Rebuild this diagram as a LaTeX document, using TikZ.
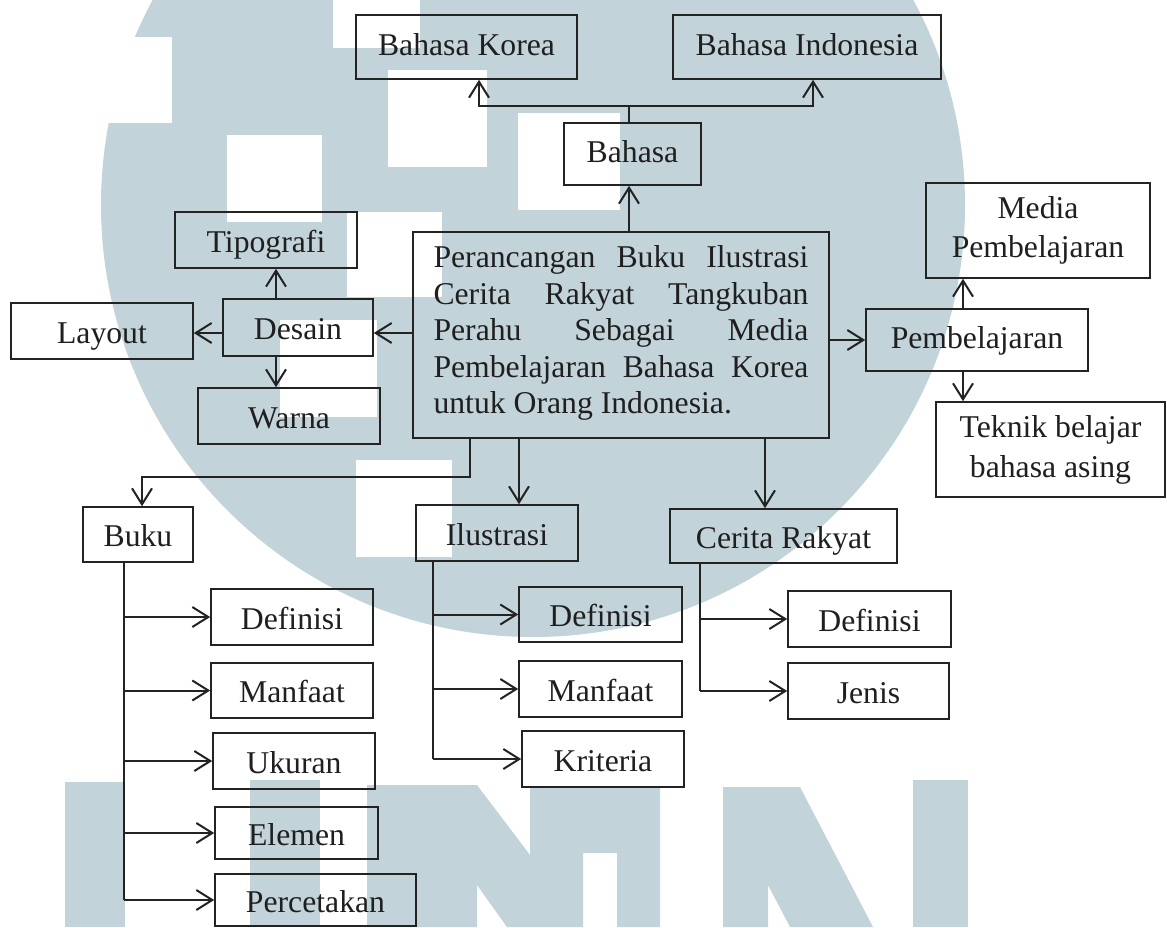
\documentclass[tikz,border=0pt]{standalone}
\usepackage{fontspec}
\setmainfont{Liberation Serif}
\usetikzlibrary{arrows.meta}
\definecolor{wm}{RGB}{195,211,218}
\definecolor{lnc}{RGB}{35,35,35}
\newcommand\fsz{\fontsize{31.7}{36.5}\selectfont}
\begin{document}
\begin{tikzpicture}[x=1pt,y=-1pt,
  box/.style={draw=lnc, line width=1.6pt, inner sep=0pt, font=\fsz, align=center, text=black!88},
  sbox/.style={box, execute at begin node={\rule[-7pt]{0pt}{38pt}}},
  tbox/.style={box, execute at begin node={\rule[-10.5pt]{0pt}{38pt}}},
  conn/.style={draw=lnc, line width=2pt},
  arr/.style={conn, -{Straight Barb[length=16pt,width=20pt,line width=2pt]}}]
\useasboundingbox (0,0) rectangle (1167,927);
\fill[white] (0,0) rectangle (1167,927);
% watermark
\begin{scope}
\clip (0,0) rectangle (1167,927);
\fill[wm] (533,205) circle (432);
\fill[white] (100,37) rectangle (172,123);
\fill[white] (333,0) rectangle (420,48);
\fill[white] (388,70) rectangle (487,167);
\fill[white] (518,113) rectangle (620,210);
\fill[white] (227,135) rectangle (322,222);
\fill[white] (347,212) rectangle (442,297);
\fill[white] (280,320) rectangle (377,417);
\fill[white] (356,460) rectangle (452,557);
\fill[wm] (65,782) rectangle (125,927);
\fill[wm] (250,780) rectangle (320,927);
\fill[wm] (367,927) -- (367,785) -- (477,785) -- (530,855) -- (530,787) -- (660,787) -- (660,927) -- (617,927) -- (617,853) -- (583,853) -- (583,927) -- (507,927) -- (477,885) -- (477,927) -- cycle;
\fill[wm] (723,927) -- (723,787) -- (800,787) -- (873,927) -- (790,927) -- (768,885) -- (768,927) -- cycle;
\fill[wm] (913,780) rectangle (968,927);
\end{scope}
% nodes
\node[tbox, minimum width=221pt, minimum height=64pt] (korea) at (466.5,47) {Bahasa Korea};
\node[tbox, minimum width=268pt, minimum height=64pt] (indo) at (807,47) {Bahasa Indonesia};
\node[tbox, minimum width=137pt, minimum height=62pt] (bahasa) at (632.5,154) {Bahasa};
\node[box, execute at begin node=\strut, minimum width=416pt, minimum height=206pt, align=left] (main) at (621,335)
  {\makebox[375pt][s]{Perancangan Buku Ilustrasi}\\
   \makebox[375pt][s]{Cerita Rakyat Tangkuban}\\
   \makebox[375pt][s]{Perahu Sebagai Media}\\
   \makebox[375pt][s]{Pembelajaran Bahasa Korea}\\
   untuk Orang Indonesia.};
\node[sbox, minimum width=182pt, minimum height=56pt] (tipo) at (266,240) {Tipografi};
\node[sbox, minimum width=150pt, minimum height=57pt] (desain) at (298,327.5) {Desain};
\node[sbox, minimum width=182pt, minimum height=56pt] (layout) at (102,331) {Layout};
\node[sbox, minimum width=182pt, minimum height=56pt] (warna) at (289,416) {Warna};
\node[box, execute at begin node={\rule{0pt}{25pt}}, minimum width=224pt, minimum height=95pt] (media) at (1038,230.5) {Media\\[2.5pt]Pembelajaran};
\node[tbox, minimum width=222pt, minimum height=62pt] (pemb) at (977,340) {Pembelajaran};
\node[box, execute at begin node={\rule{0pt}{22pt}}, minimum width=229pt, minimum height=95pt] (teknik) at (1050.5,449.5) {Teknik belajar\\[3.5pt]bahasa asing};
\node[sbox, minimum width=110pt, minimum height=55pt] (buku) at (138,534.5) {Buku};
\node[sbox, minimum width=162pt, minimum height=56pt] (ilus) at (497,533) {Ilustrasi};
\node[sbox, minimum width=227pt, minimum height=54pt] (cerita) at (783.5,536) {Cerita Rakyat};
\node[sbox, minimum width=162pt, minimum height=56pt] (bdef) at (292,617) {Definisi};
\node[sbox, minimum width=162pt, minimum height=55pt] (bman) at (292,690.5) {Manfaat};
\node[sbox, minimum width=162pt, minimum height=56pt] (bukr) at (294,761) {Ukuran};
\node[sbox, minimum width=163pt, minimum height=52pt] (bele) at (296.5,833) {Elemen};
\node[sbox, minimum width=201pt, minimum height=52pt] (bper) at (315.5,900) {Percetakan};
\node[sbox, minimum width=163pt, minimum height=55pt] (idef) at (600.5,614.5) {Definisi};
\node[sbox, minimum width=163pt, minimum height=56pt] (iman) at (600.5,689) {Manfaat};
\node[sbox, minimum width=162pt, minimum height=56pt] (ikri) at (603,759) {Kriteria};
\node[sbox, minimum width=163pt, minimum height=56pt] (cdef) at (869.5,619) {Definisi};
\node[sbox, minimum width=161pt, minimum height=56pt] (cjen) at (868.5,691) {Jenis};
% connectors
\coordinate (bj) at (629,106);
\coordinate (kx) at (479,0);
\coordinate (ix) at (813,0);
\draw[conn] (bj |- bahasa.north) -- (bj);
\draw[arr] (bj) -| (kx |- korea.south);
\draw[arr] (bj) -| (ix |- indo.south);
\draw[arr] (bj |- main.north) -- (bj |- bahasa.south);
\coordinate (dy) at (0,333);
\coordinate (dx) at (276,0);
\draw[arr] (main.west |- dy) -- (desain.east |- dy);
\draw[arr] (desain.west |- dy) -- (layout.east |- dy);
\draw[arr] (dx |- desain.north) -- (dx |- tipo.south);
\draw[arr] (dx |- desain.south) -- (dx |- warna.north);
\coordinate (px) at (963,0);
\draw[arr] (main.east |- pemb.west) -- (pemb.west);
\draw[arr] (px |- pemb.north) -- (px |- media.south);
\draw[arr] (px |- pemb.south) -- (px |- teknik.north);
\coordinate (bk1) at (470,477);
\coordinate (bk2) at (142,477);
\draw[arr] (bk1 |- main.south) -- (bk1) -- (bk2) -- (bk2 |- buku.north);
\coordinate (il) at (519,0);
\draw[arr] (il |- main.south) -- (il |- ilus.north);
\coordinate (cr) at (765,0);
\draw[arr] (cr |- main.south) -- (cr |- cerita.north);
\coordinate (bv) at (124,0);
\draw[conn] (bv |- buku.south) -- (bv |- bper.west);
\foreach \n in {bdef,bman,bukr,bele,bper} \draw[arr] (bv |- \n.west) -- (\n.west);
\coordinate (iv) at (433,0);
\draw[conn] (iv |- ilus.south) -- (iv |- ikri.west);
\foreach \n in {idef,iman,ikri} \draw[arr] (iv |- \n.west) -- (\n.west);
\coordinate (cv) at (700,0);
\draw[conn] (cv |- cerita.south) -- (cv |- cjen.west);
\foreach \n in {cdef,cjen} \draw[arr] (cv |- \n.west) -- (\n.west);
\end{tikzpicture}
\end{document}
